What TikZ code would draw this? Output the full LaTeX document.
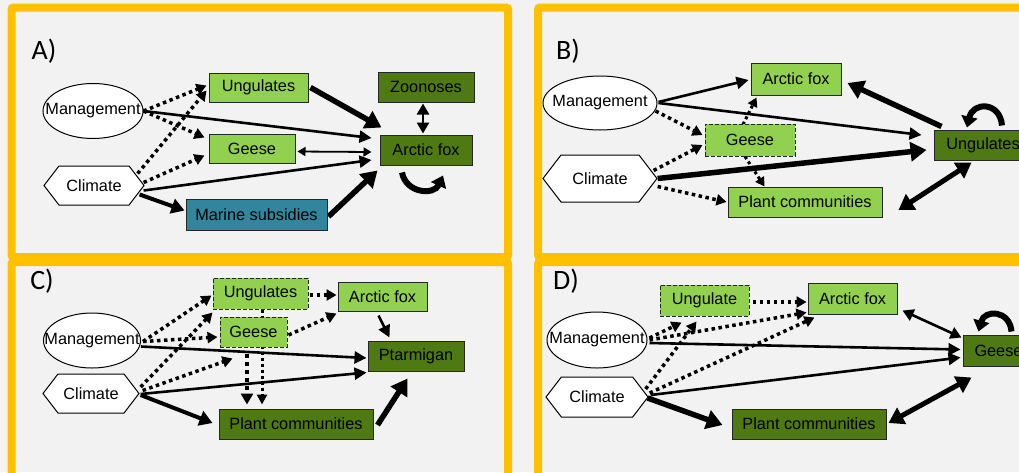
\documentclass[tikz,border=0pt]{standalone}
\usepackage{fontspec}
\setmainfont{Liberation Sans}
\newfontfamily\panelfont{Carlito}
\usetikzlibrary{arrows.meta,calc,shapes.geometric,shapes.symbols}
\definecolor{bgray}{HTML}{F2F2F2}
\definecolor{frameor}{HTML}{FFC000}
\definecolor{lgreen}{HTML}{92D050}
\definecolor{dgreen}{HTML}{4F7A13}
\definecolor{marineblue}{HTML}{31859C}
\pgfdeclarelayer{backdrop}
\pgfdeclarelayer{links}
\pgfsetlayers{backdrop,links,main}
\tikzset{
  sz/.style 2 args={minimum width=#1pt, minimum height=#2pt},
  box/.style={rectangle, draw=black!85, line width=1pt, inner sep=0pt},
  lbox/.style={box, fill=lgreen},
  dbox/.style={box, fill=dgreen},
  mbox/.style={box, fill=marineblue},
  dashbox/.style={dash pattern=on 4pt off 2pt},
  oval/.style={ellipse, draw=black, fill=white, line width=1pt, inner sep=0pt},
  hexa/.style={signal, signal to=east and west, signal pointer angle=105,
               draw=black, fill=white, line width=1pt, inner sep=0pt},
  panellabel/.style={font=\panelfont\fontsize{28}{30}\selectfont},
  frame/.style={draw=frameor, line width=8pt, rounded corners=2pt},
  dotarr/.style={line width=3.5pt, dash pattern=on 3.5pt off 3.5pt,
                 -{Triangle[length=10pt,width=11pt]}},
  medarr/.style={line width=2.6pt, -{Triangle[length=12pt,width=12pt]}},
  thkarr/.style={line width=5.5pt, -{Triangle[length=16pt,width=19pt]}},
  thinbi/.style={line width=1.8pt,
                 {Triangle[length=8pt,width=9pt]}-{Triangle[length=8pt,width=9pt]}},
  medbi/.style={line width=2.6pt,
                {Triangle[length=11pt,width=12pt]}-{Triangle[length=11pt,width=12pt]}},
  thkbi/.style={line width=5pt,
                {Triangle[length=15pt,width=18pt]}-{Triangle[length=15pt,width=18pt]}},
  loopar/.style={line width=6pt, -{Triangle[length=11pt,width=16pt]}},
}
\newcommand{\mgmt}{\makebox[0pt]{Management}}
\newcommand{\clim}{\makebox[0pt]{Climate}}
\begin{document}
\begin{tikzpicture}[x=1pt, y=-1pt, font=\fontsize{16.3}{19}\selectfont]
\useasboundingbox (0,0) rectangle (1019,472);
\clip (0,0) rectangle (1019,472);

% backdrop and panel frames
\begin{pgfonlayer}{backdrop}
  \fill[bgray] (0,0) rectangle (1019,472);
  \draw[frame] (11.5,7.5) rectangle (508,257);
  \draw[frame] (538,7.5) rectangle (1035,257);
  \draw[frame] (11.5,262) rectangle (508,478);
  \draw[frame] (538,262) rectangle (1035,478);
\end{pgfonlayer}

% ---------------- panel A ----------------
\node[panellabel] (labA) at (44,51) {A)};
\node[oval, sz={100}{55}] (mA) at (93,111) {\mgmt};
\node[hexa, sz={100}{39}] (cA) at (94,185.5) {\clim};
\node[lbox, sz={99}{29}] (ungA) at (258.5,87.5) {Ungulates};
\node[lbox, sz={86}{29}] (geeseA) at (252,148.5) {Geese};
\node[mbox, sz={141}{31}] (marA) at (256.5,214.5) {Marine subsidies};
\node[dbox, sz={96}{30}] (zooA) at (426,87) {Zoonoses};
\node[dbox, sz={92}{30}] (foxA) at (426,150) {Arctic fox};

% ---------------- panel B ----------------
\node[panellabel] (labB) at (568,51) {B)};
\node[oval, sz={114}{54}] (mB) at (600,103) {\mgmt};
\node[hexa, sz={114}{47}] (cB) at (600,178.5) {\clim};
\node[lbox, sz={90}{32}] (foxB) at (796,79) {Arctic fox};
\node[lbox, dashbox, sz={90}{32}] (geeseB) at (750,140) {Geese};
\node[lbox, sz={154}{30}] (plantB) at (805,202) {Plant communities};
\node[dbox, sz={98}{30}] (ungB) at (983,145) {Ungulates};

% ---------------- panel C ----------------
\node[panellabel] (labC) at (42,281) {C)};
\node[oval, sz={97}{55}] (mC) at (92,340.5) {\mgmt};
\node[hexa, sz={96}{39}] (cC) at (91,393.5) {\clim};
\node[lbox, dashbox, sz={95}{31}] (ungC) at (260.5,293.5) {Ungulates};
\node[lbox, dashbox, sz={67}{30}] (geeseC) at (253.5,332) {Geese};
\node[lbox, sz={89}{29}] (foxC) at (382.5,296.5) {Arctic fox};
\node[dbox, sz={96}{30}] (ptarC) at (416,356) {Ptarmigan};
\node[dbox, sz={154}{30}] (plantC) at (296,424) {Plant communities};

% ---------------- panel D ----------------
\node[panellabel] (labD) at (566,281) {D)};
\node[oval, sz={100}{56}] (mD) at (597,340) {\mgmt};
\node[hexa, sz={102}{40}] (cD) at (597,397) {\clim};
\node[lbox, dashbox, sz={89}{31}] (ungD) at (704.5,300.5) {Ungulate};
\node[lbox, sz={89}{31}] (foxD) at (852.5,298.5) {Arctic fox};
\node[dbox, sz={71}{31}] (geeseD) at (998.5,350.5) {Geese};
\node[dbox, sz={154}{30}] (plantD) at (809,424) {Plant communities};

\begin{pgfonlayer}{links}
% panel A links
\draw[dotarr] (mA.east) -- ($(ungA.west)+(-2,-2)$);
\draw[dotarr] (mA.east) -- ($(geeseA.north west)+(-4,4)$);
\draw[dotarr] ($(cA.east)+(-7,-12)$) -- ($(ungA.west)+(-2,3)$);
\draw[dotarr] ($(cA.east)+(-1,-3)$) -- ($(geeseA.west)+(-4,7)$);
\draw[medarr] (mA.east) -- ($(foxA.west)+(-8,-12)$);
\draw[thinbi] ($(geeseA.east)+(2,3)$) -- ($(foxA.west)+(-8,2)$);
\draw[medarr] ($(cA.east)+(-1,5)$) -- ($(foxA.west)+(-8,10)$);
\draw[line width=4pt, -{Triangle[length=13pt,width=15pt]}] ($(cA.east)+(-5,9)$) -- ($(marA.west)+(-1,-4)$);
\draw[thkarr] ($(ungA.east)+(2,0)$) -- ($(foxA.north west)+(2,-7)$);
\draw[thkarr] ($(marA.east)+(1,2)$) -- ($(foxA.south west)+(-2,5)$);
\draw[medbi] ($(zooA.south)+(-3,1)$) -- ($(foxA.north)+(-3,-1)$);
\draw[loopar] ($(foxA.south)+(-24,7)$) .. controls ($(foxA.south)+(-20,28)$) and ($(foxA.south)+(8,30)$) .. ($(foxA.south)+(17,10)$);

% panel B links
\draw[medarr] ($(mB.east)+(1,-1)$) -- ($(foxB.west)+(-2,1)$);
\draw[medarr] ($(mB.east)+(1,0)$) -- ($(ungB.west)+(-12,-10)$);
\draw[dotarr] ($(mB.east)+(-2,8)$) -- ($(geeseB.west)+(-2,-5)$);
\draw[dotarr] ($(cB.east)+(-4,-8)$) -- ($(geeseB.west)+(-2,5)$);
\draw[thkarr] ($(cB.east)+(0,0)$) -- ($(ungB.west)+(-7,5)$);
\draw[dotarr] ($(cB.east)+(0,8)$) -- ($(plantB.west)+(-1,0)$);
\draw[line width=3pt, dash pattern=on 3pt off 3pt, -{Triangle[length=9pt,width=10pt]}] ($(geeseB.north)+(-7,1)$) -- ($(foxB.south west)+(6,2)$);
\draw[line width=3pt, dash pattern=on 3pt off 3pt, -{Triangle[length=9pt,width=10pt]}] ($(geeseB.south)+(-5,0)$) -- ($(plantB.north west)+(37,0)$);
\draw[thkarr] ($(ungB.north west)+(8,-3)$) -- ($(foxB.east)+(6,4)$);
\draw[thkbi] ($(plantB.east)+(16,8)$) -- ($(ungB.south west)+(38,2)$);
\draw[loopar] ($(ungB.north)+(19,-4)$) .. controls ($(ungB.north)+(17,-28)$) and ($(ungB.north)+(-10,-28)$) .. ($(ungB.north)+(-16,-2)$);

% panel C links
\draw[dotarr] ($(mC.east)+(2,1)$) -- ($(ungC.west)+(-1,2)$);
\draw[dotarr] ($(mC.east)+(2,1)$) -- ($(geeseC.west)+(-2,5)$);
\draw[medarr] ($(mC.east)+(0,6)$) -- ($(ptarC.west)+(-1,2)$);
\draw[dotarr] ($(cC.east)+(1,-6.5)$) -- ($(ungC.south west)+(0,3)$);
\draw[dotarr] ($(cC.east)+(3,-3)$) -- ($(geeseC.south west)+(13,11)$);
\draw[medarr] ($(cC.east)+(1,0.5)$) -- ($(ptarC.south west)+(-1,1)$);
\draw[line width=4pt, -{Triangle[length=13pt,width=15pt]}] ($(cC.east)+(1,1.5)$) -- ($(plantC.west)+(-6,-1)$);
\draw[line width=4.5pt, dash pattern=on 4pt off 4pt, -{Triangle[length=11pt,width=12pt]}] ($(geeseC.south)+(-6.5,6)$) -- ($(plantC.north)+(-49,-4)$);
\draw[line width=3pt, dash pattern=on 3pt off 3pt, -{Triangle[length=10pt,width=10pt]}] ($(ungC.south)+(1.5,0)$) -- ($(plantC.north)+(-34,-4)$);
\draw[dotarr] ($(ungC.east)+(1,1.5)$) -- ($(foxC.west)+(-1,-1.5)$);
\draw[dotarr] ($(geeseC.east)+(1,3)$) -- ($(foxC.south west)+(-1,2)$);
\draw[medarr] ($(foxC.south)+(-4,4)$) -- ($(ptarC.north west)+(22,-3)$);
\draw[thkarr] ($(plantC.east)+(4,1)$) -- ($(ptarC.south west)+(40,7)$);

% panel D links
\draw[dotarr] ($(ungD.east)+(3,1.5)$) -- ($(foxD.west)+(-1,3.5)$);
\draw[dotarr] ($(mD.east)+(2,-2)$) -- ($(ungD.south west)+(22,6)$);
\draw[dotarr] ($(mD.east)+(2,0)$) -- ($(foxD.south west)+(-1,-2)$);
\draw[dotarr] ($(cD.east)+(-3,-8)$) -- ($(ungD.south)+(-8,5)$);
\draw[dotarr] ($(cD.east)+(1,-4)$) -- ($(foxD.south west)+(7,3)$);
\draw[medarr] ($(mD.east)+(2,3)$) -- ($(geeseD.west)+(-2,-1)$);
\draw[medarr] ($(cD.east)+(2,-2)$) -- ($(geeseD.west)+(-2,7)$);
\draw[thkarr] ($(cD.east)+(-1,1)$) -- ($(plantD.west)+(-9,1)$);
\draw[medbi] ($(foxD.east)+(5,12)$) -- ($(geeseD.north west)+(-1,3)$);
\draw[thkbi] ($(plantD.east)+(2,-1)$) -- ($(geeseD.south west)+(9,11)$);
\draw[loopar] ($(geeseD.north)+(13,-3)$) .. controls ($(geeseD.north)+(11,-25)$) and ($(geeseD.north)+(-14,-25)$) .. ($(geeseD.north)+(-20,-3)$);
\end{pgfonlayer}
\end{tikzpicture}
\end{document}
